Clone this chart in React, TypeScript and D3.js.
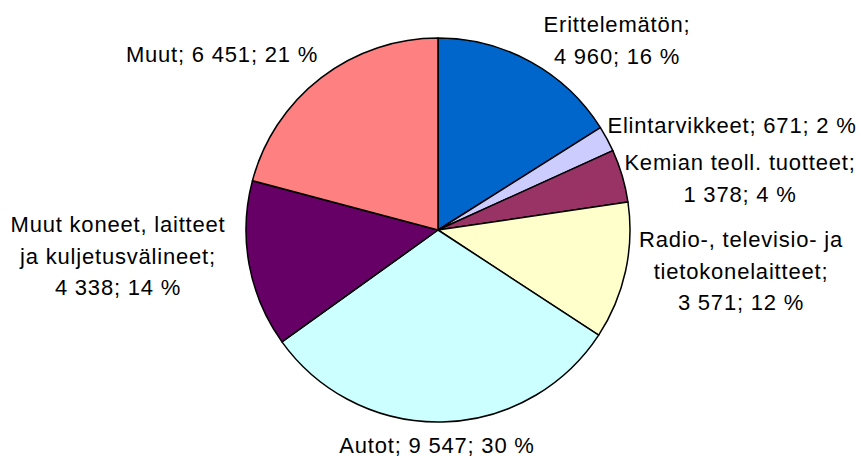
import React from "react";
import * as d3 from "d3";

// categories in drawing order (clockwise from 12 o'clock)
const categories = [
  "Erittelemätön",
  "Elintarvikkeet",
  "Kemian teoll. tuotteet",
  "Radio-, televisio- ja tietokonelaitteet",
  "Autot",
  "Muut koneet, laitteet ja kuljetusvälineet",
  "Muut",
];
const values = [4960, 671, 1378, 3571, 9547, 4338, 6451];
// percentages as printed in the reference labels
const percents = [16, 2, 4, 12, 30, 14, 21];
const colors = ["#0066CC", "#CCCCFF", "#993366", "#FFFFCC", "#CCFFFF", "#660066", "#FF8080"];

// label text lines, as the reference wraps them
const labelLines = [
  ["Erittelemätön;", "{v}; {p}"],
  ["Elintarvikkeet; {v}; {p}"],
  ["Kemian teoll. tuotteet;", "{v}; {p}"],
  ["Radio-, televisio- ja", "tietokonelaitteet;", "{v}; {p}"],
  ["Autot; {v}; {p}"],
  ["Muut koneet, laitteet", "ja kuljetusvälineet;", "{v}; {p}"],
  ["Muut; {v}; {p}"],
];
// label placement relative to pie centre (dx, dy of first baseline)
const labelOffsets = [
  [179, -198],
  [294, -97],
  [302, -60],
  [303, 17],
  [-1, 223],
  [-320, 2],
  [-216, -168],
];

const W = 861;
const H = 457;
const cx = 438;
const cy = 230;
const radius = 192;
const lineH = 31.5;

const fmt = (n: number) => d3.format(",")(n).replace(/,/g, " ");

export default function App() {
  const pie = d3
    .pie<number>()
    .sort(null)
    .value((d) => d)
    .startAngle(0)
    .endAngle(2 * Math.PI);
  const arcs = pie(values);
  const arc = d3.arc<d3.PieArcDatum<number>>().innerRadius(0).outerRadius(radius);

  return (
    <svg
      width={W}
      height={H}
      style={{ position: "absolute", left: 0, top: 0, background: "#fff" }}
      fontFamily="'Liberation Sans', Arial, sans-serif"
    >
      <g transform={`translate(${cx},${cy})`}>
        {arcs.map((a, i) => (
          <path
            key={categories[i]}
            d={arc(a) || ""}
            fill={colors[i]}
            stroke="#000"
            strokeWidth={1.5}
            strokeLinejoin="round"
          />
        ))}
        {arcs.map((a, i) => {
          const pct = percents[i] + " %";
          const lines = labelLines[i].map((s) =>
            s.replace("{v}", fmt(values[i])).replace("{p}", pct)
          );
          const [dx, dy] = labelOffsets[i];
          return (
            <text
              key={"l" + i}
              x={dx}
              y={dy}
              textAnchor="middle"
              fontSize={22}
              letterSpacing={0.8}
              fill="#000"
            >
              {lines.map((t, j) => (
                <tspan key={j} x={dx} y={dy + j * lineH}>
                  {t}
                </tspan>
              ))}
            </text>
          );
        })}
      </g>
    </svg>
  );
}
